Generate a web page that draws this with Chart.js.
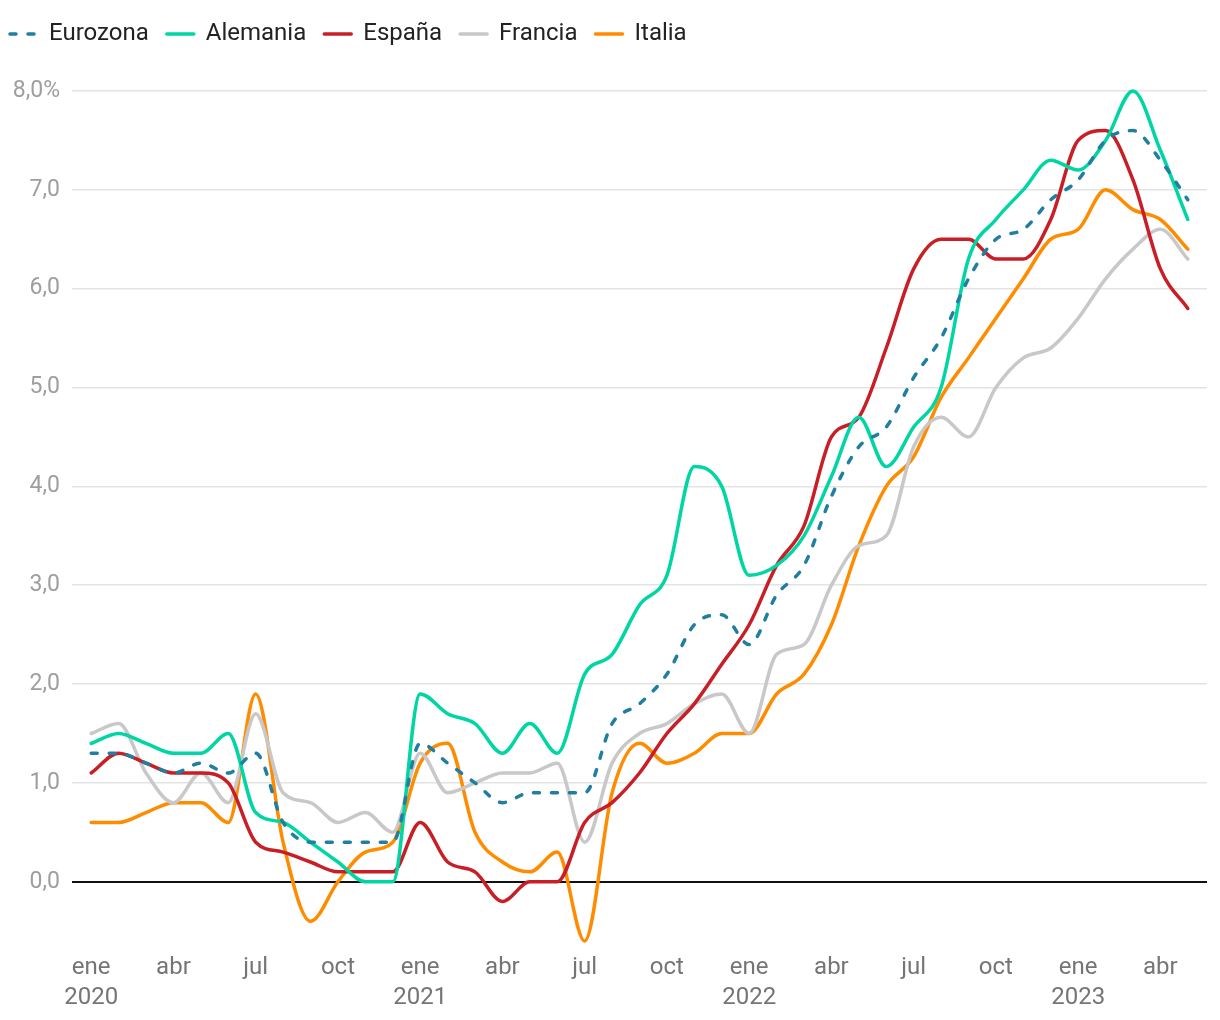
<!DOCTYPE html>
<html lang="es">
<head>
<meta charset="utf-8">
<title>Inflación subyacente</title>
<script src="https://cdn.jsdelivr.net/npm/chart.js@4.4.1/dist/chart.umd.min.js"></script>
<style>
    html, body { margin: 0; padding: 0; background: #fff; }
    #wrap { width: 1220px; height: 1020px; position: relative; }
</style>
</head>
<body>
<div id="wrap"><canvas id="chart"></canvas></div>
<script>
// Months from ene 2020 to may 2023
const meses = [
    '2020-01', '2020-02', '2020-03', '2020-04', '2020-05', '2020-06', '2020-07', '2020-08', '2020-09', '2020-10', '2020-11', '2020-12',
    '2021-01', '2021-02', '2021-03', '2021-04', '2021-05', '2021-06', '2021-07', '2021-08', '2021-09', '2021-10', '2021-11', '2021-12',
    '2022-01', '2022-02', '2022-03', '2022-04', '2022-05', '2022-06', '2022-07', '2022-08', '2022-09', '2022-10', '2022-11', '2022-12',
    '2023-01', '2023-02', '2023-03', '2023-04', '2023-05'
];

const eurozona = [
    1.3, 1.3, 1.2, 1.1, 1.2, 1.1, 1.3, 0.6, 0.4, 0.4, 0.4, 0.4,
    1.4, 1.2, 1.0, 0.8, 0.9, 0.9, 0.9, 1.6, 1.8, 2.1, 2.6, 2.7,
    2.4, 2.9, 3.2, 3.9, 4.4, 4.6, 5.1, 5.5, 6.1, 6.5, 6.6, 6.9,
    7.1, 7.5, 7.6, 7.3, 6.9
];
const alemania = [
    1.4, 1.5, 1.4, 1.3, 1.3, 1.5, 0.7, 0.6, 0.4, 0.2, 0.0, 0.0,
    1.9, 1.7, 1.6, 1.3, 1.6, 1.3, 2.1, 2.3, 2.8, 3.1, 4.2, 4.0,
    3.1, 3.2, 3.5, 4.1, 4.7, 4.2, 4.6, 5.0, 6.3, 6.7, 7.0, 7.3,
    7.2, 7.5, 8.0, 7.4, 6.7
];
const espana = [
    1.1, 1.3, 1.2, 1.1, 1.1, 1.0, 0.4, 0.3, 0.2, 0.1, 0.1, 0.1,
    0.6, 0.2, 0.1, -0.2, 0.0, 0.0, 0.6, 0.8, 1.1, 1.5, 1.8, 2.2,
    2.6, 3.2, 3.6, 4.5, 4.7, 5.4, 6.2, 6.5, 6.5, 6.3, 6.3, 6.7,
    7.5, 7.6, 7.1, 6.2, 5.8
];
const francia = [
    1.5, 1.6, 1.1, 0.8, 1.1, 0.8, 1.7, 0.9, 0.8, 0.6, 0.7, 0.5,
    1.3, 0.9, 1.0, 1.1, 1.1, 1.2, 0.4, 1.2, 1.5, 1.6, 1.8, 1.9,
    1.5, 2.3, 2.4, 3.0, 3.4, 3.5, 4.4, 4.7, 4.5, 5.0, 5.3, 5.4,
    5.7, 6.1, 6.4, 6.6, 6.3
];
const italia = [
    0.6, 0.6, 0.7, 0.8, 0.8, 0.6, 1.9, 0.4, -0.4, 0.0, 0.3, 0.4,
    1.2, 1.4, 0.5, 0.2, 0.1, 0.3, -0.6, 0.9, 1.4, 1.2, 1.3, 1.5,
    1.5, 1.9, 2.1, 2.6, 3.4, 4.0, 4.3, 4.9, 5.3, 5.7, 6.1, 6.5,
    6.6, 7.0, 6.8, 6.7, 6.4
];

// Axis ticks
const xTickIndex = [0, 3, 6, 9, 12, 15, 18, 21, 24, 27, 30, 33, 36, 39];
const xTickMonths = ['ene', 'abr', 'jul', 'oct'];
const xTickYears = ['2020', '2021', '2022', '2023'];
const yTickValues = [0, 1, 2, 3, 4, 5, 6, 7, 8];
const yTickLabels = ['0,0', '1,0', '2,0', '3,0', '4,0', '5,0', '6,0', '7,0', '8,0%'];

const toPoints = arr => arr.map((v, i) => ({ x: i, y: v }));

function serie(label, values, color, dashed) {
    return {
        label: label,
        data: toPoints(values),
        borderColor: color,
        backgroundColor: color,
        borderWidth: 3.5,
        borderDash: dashed ? [6, 12] : [],
        borderCapStyle: 'round',
        borderJoinStyle: 'round',
        pointRadius: 0,
        pointHoverRadius: 0,
        cubicInterpolationMode: 'monotone',
        fill: false
    };
}

Chart.defaults.font.family = 'Roboto, "Noto Sans", sans-serif';

new Chart(document.getElementById('chart').getContext('2d'), {
    type: 'line',
    data: {
        datasets: [
            serie('Eurozona', eurozona, '#1f7ea1', true),
            serie('Alemania', alemania, '#00d6a3', false),
            serie('España', espana, '#c81f26', false),
            serie('Francia', francia, '#c8c8c8', false),
            serie('Italia', italia, '#ff8c00', false)
        ]
    },
    options: {
        responsive: true,
        maintainAspectRatio: false,
        animation: false,
        layout: {
            padding: { left: -8, right: 13, top: 4, bottom: 0 }
        },
        scales: {
            x: {
                type: 'linear',
                min: -0.7,
                max: 40.7,
                grid: { display: false, drawTicks: false },
                border: { display: false },
                afterBuildTicks: scale => {
                    scale.ticks = xTickIndex.map(v => ({ value: v }));
                },
                ticks: {
                    autoSkip: false,
                    maxRotation: 0,
                    padding: 7,
                    color: '#757575',
                    font: { size: 24, lineHeight: 1.25 },
                    callback: value => {
                        const m = xTickMonths[(value % 12) / 3];
                        if (value % 12 === 0) {
                            return [m, xTickYears[value / 12]];
                        }
                        return m;
                    }
                }
            },
            y: {
                min: -0.65,
                max: 8.354,
                afterFit: scale => { scale.width = 80; },
                afterBuildTicks: scale => {
                    scale.ticks = yTickValues.map(v => ({ value: v }));
                },
                grid: {
                    drawTicks: false,
                    color: ctx => ctx.tick && ctx.tick.value === 0 ? '#111111' : '#e3e3e3',
                    lineWidth: ctx => ctx.tick && ctx.tick.value === 0 ? 2 : 1.5
                },
                border: { display: false },
                ticks: {
                    padding: 12,
                    color: '#9e9e9e',
                    font: { size: 23 },
                    callback: value => yTickLabels[yTickValues.indexOf(value)]
                }
            }
        },
        plugins: {
            legend: {
                position: 'top',
                align: 'start',
                labels: {
                    usePointStyle: true,
                    pointStyle: 'line',
                    pointStyleWidth: 27,
                    padding: 18,
                    color: '#222222',
                    font: { size: 24 },
                    // legend samples take the dataset line style (dash, width, caps)
                    generateLabels: chart => {
                        const items = Chart.defaults.plugins.legend.labels.generateLabels(chart);
                        items.forEach(item => {
                            const ds = chart.data.datasets[item.datasetIndex];
                            item.lineDash = ds.borderDash;
                            item.lineWidth = ds.borderWidth;
                            item.lineCap = 'round';
                            item.strokeStyle = ds.borderColor;
                        });
                        return items;
                    }
                }
            },
            tooltip: { enabled: false }
        }
    }
});
</script>
</body>
</html>
